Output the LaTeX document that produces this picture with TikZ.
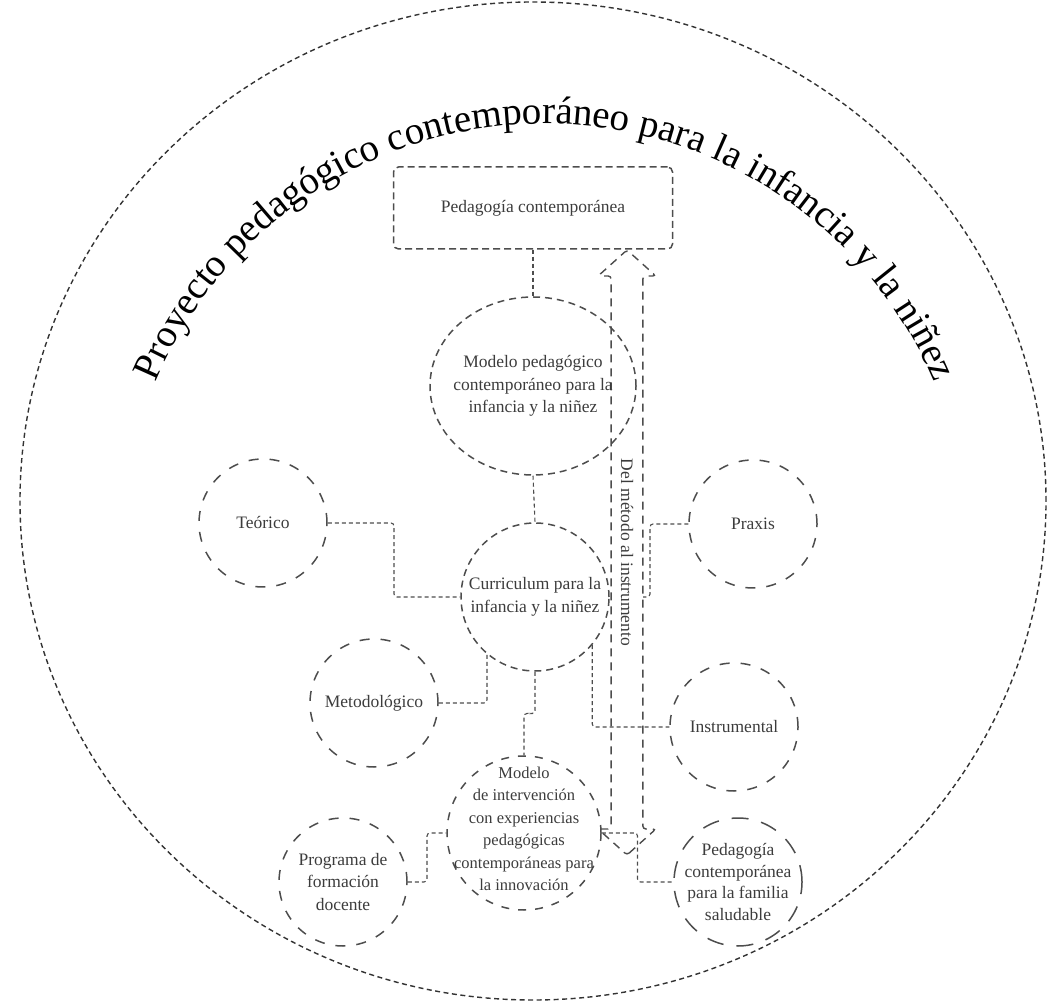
\documentclass[tikz,border=0pt]{standalone}
\usepackage{fontspec}
\setmainfont{Liberation Serif}
\usetikzlibrary{shapes.geometric,shapes.arrows,calc,decorations.text}
\definecolor{ink}{HTML}{3c3c3c}
\definecolor{rim}{HTML}{4d4d4d}
\tikzset{
  bubble/.style={
    shape = circle,
    draw = rim,
    line width = 1.5pt,
    dash pattern = on 10pt off 11pt,
    minimum size = 128pt,
    inner sep = 0pt,
    align = center,
    text = ink
  },
  core/.style={
    bubble,
    dash pattern = on 7pt off 5pt
  },
  btext/.style={
    align = center,
    text = ink,
    inner sep = 0pt
  },
  framebox/.style={
    shape = rectangle,
    draw = rim,
    line width = 1.5pt,
    dash pattern = on 7pt off 4pt,
    rounded corners = 5pt,
    minimum width = 279pt,
    minimum height = 82pt,
    text = ink
  },
  hollowarrow/.style={
    double arrow,
    draw = rim,
    line width = 1.4pt,
    dash pattern = on 8pt off 6pt,
    rounded corners = 3pt,
    double arrow head extend = 13pt,
    double arrow tip angle = 96,
    minimum height = 605pt,
    minimum width = 57pt,
    inner xsep = 2pt,
    inner ysep = 9pt,
    text = ink
  },
  link/.style={
    draw = rim,
    line width = 1.1pt,
    dash pattern = on 4pt off 3pt,
    rounded corners = 3pt
  },
  rimline/.style={
    draw = black!80,
    line width = 1.4pt,
    dash pattern = on 5pt off 3.5pt
  }
}
\newfontfamily\titlefont{Liberation Serif}

\begin{document}
\begin{tikzpicture}[x=1pt,y=1pt,font=\fontsize{17.5}{22.5}\selectfont]
  \useasboundingbox (0,0) rectangle (1048,1007);
  \draw[rimline] (533,506) ellipse [x radius=513, y radius=499];
  % title on the arc
  \path[decorate, decoration={text along path, text align=center,
      text={|\titlefont\fontsize{39}{42}\selectfont|Proyecto pedagógico contemporáneo para la infancia y la niñez}}]
    (545,461) ++(162:422) arc[start angle=162, end angle=18, radius=422];

  \node[hollowarrow, rotate=-90] (dma) at (627,454.5) {Del método al instrumento};

  \node[framebox] (pc) at (533,799) {Pedagogía contemporánea};
  \node[core, shape=ellipse, minimum width=206pt, minimum height=178pt,
    label={[btext]center:Modelo pedagógico\\contemporáneo para la\\infancia y la niñez}] (mpc) at (533,621) {};
  \node[core, minimum size=148pt] (cur) at (535,410) {Curriculum para la\\infancia y la niñez};

  \node[bubble] (teo) at (263,484) {Teórico};
  \node[bubble] (met) at (374,304) {Metodológico};
  \node[bubble] (prx) at (753,483) {Praxis};
  \node[bubble] (ins) at (734,280) {Instrumental};
  \node[bubble, minimum size=154pt, dash pattern=on 8pt off 9pt,
    label={[btext, yshift=4pt, font=\fontsize{16.5}{22.5}\selectfont]center:Modelo\\de intervención\\con experiencias\\pedagógicas\\contemporáneas para\\la innovación}] (mi) at (524,174) {};
  \node[bubble] (prog) at (343,125) {Programa de\\formación\\docente};
  \node[bubble, dash pattern=on 17pt off 13pt,
    label={[btext, font=\fontsize{17.5}{21.7}\selectfont]center:Pedagogía\\contemporánea\\para la familia\\saludable}] (fam) at (738,125) {};

  \coordinate (pxj) at (643,410);

  \draw[link] (pc.south) -- (mpc.north);
  \draw[link] (mpc.south) -- (cur.north);
  \draw[link] (teo.east) -| ($(teo.east)!.5!(cur.west)$) |- (cur.west);
  \draw[link] (met.east) -| (cur.230);
  \draw[link] (cur.south) |- ($(cur.south)!.5!(mi.north)$) -| (mi.north);
  \draw[link] (prog.east) -| ($(prog.east)!.5!(mi.west)$) |- (mi.west);
  \draw[link] (cur.-40) |- (ins.west);
  \draw[link] (prx.west) -| ($(pxj)+(7,0)$) -- (pxj);
  \draw[link] (mi.east) -| ($(mi.east)!.5!(fam.west)$) |- (fam.west);
\end{tikzpicture}
\end{document}
